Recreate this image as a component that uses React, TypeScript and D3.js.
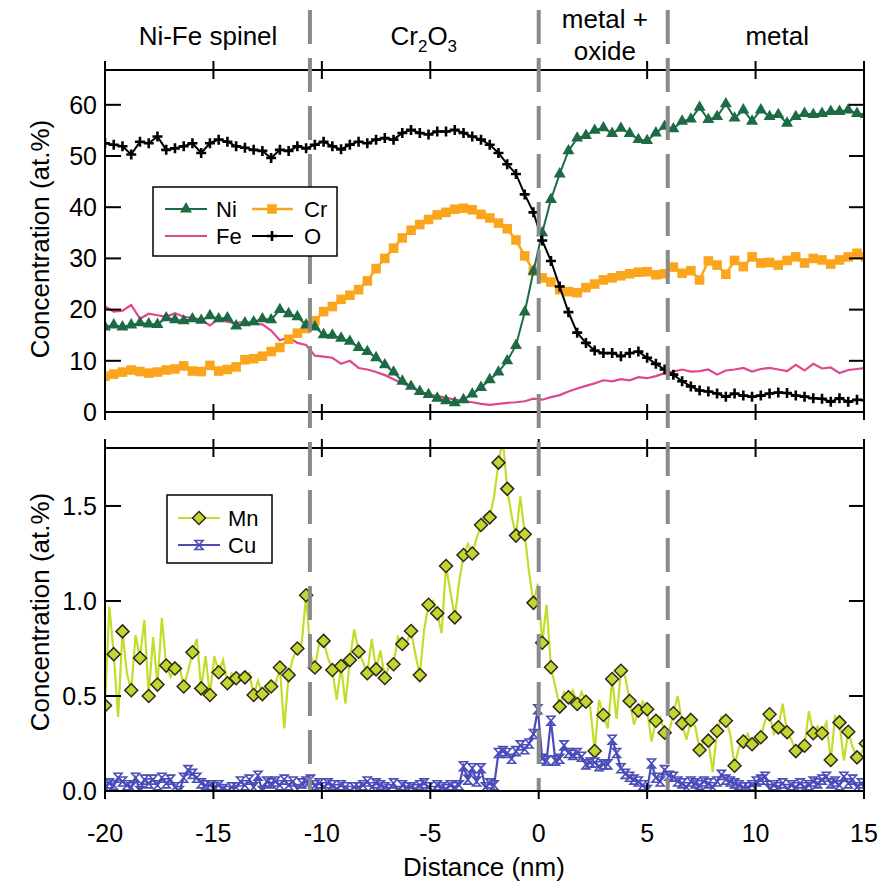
import React from 'react';
import * as d3 from 'd3';

// sampling of the line scan (nm between markers)
const xStart = -20;
const markerStep = 35.08 / 87;
const fineStep = markerStep / 2;

// top panel (at.%)
const niValues = [16.6, 17.0, 16.6, 17.0, 17.4, 17.2, 17.1, 18.4, 18.0, 17.8,
  18.2, 17.9, 18.8, 18.2, 18.4, 16.8, 17.4, 17.6, 18.2, 18.0,
  20.0, 19.2, 18.6, 17.0, 16.6, 15.1, 15.0, 14.4, 13.8, 12.6,
  11.8, 10.6, 9.2, 7.8, 6.0, 5.0, 4.0, 3.4, 2.7, 2.2,
  1.8, 2.4, 3.5, 4.8, 6.3, 7.8, 10.0, 13.0, 19.5, 27.5,
  35.0, 41.5, 46.5, 51.0, 53.5, 54.0, 55.0, 55.5, 54.4, 55.4,
  54.4, 53.2, 53.0, 54.5, 55.8, 55.3, 56.8, 57.2, 59.5, 57.1,
  57.7, 60.2, 57.4, 59.0, 56.8, 59.0, 57.7, 58.1, 56.4, 57.7,
  58.3, 58.1, 58.3, 58.7, 58.7, 59.0, 58.3, 58.1];

const crValues = [7.0, 7.4, 7.8, 8.2, 7.9, 7.6, 7.8, 8.2, 8.4, 9.0,
  8.0, 7.9, 9.1, 8.0, 8.3, 8.8, 10.2, 10.4, 10.9, 11.8,
  12.6, 14.2, 15.4, 16.3, 17.8, 19.6, 20.6, 22.0, 22.8, 23.9,
  25.6, 28.0, 30.0, 32.0, 34.0, 35.5, 36.6, 37.6, 38.5, 39.0,
  39.6, 39.8, 39.5, 38.6, 37.9, 36.9, 35.8, 33.6, 30.5, 27.5,
  26.2, 25.4, 23.9, 23.5, 23.3, 24.3, 25.0, 25.8, 26.2, 26.6,
  27.0, 27.3, 27.4, 26.8, 27.0, 28.3, 27.1, 27.6, 25.8, 29.5,
  28.7, 26.9, 29.6, 28.4, 30.3, 29.1, 29.2, 28.7, 29.6, 30.3,
  29.1, 30.0, 29.7, 28.9, 29.7, 30.3, 31.0, 30.3];

const feValues = [20.6, 19.6, 19.8, 20.9, 18.2, 19.2, 18.9, 18.6, 19.3, 18.6,
  18.4, 18.0, 16.9, 18.2, 17.6, 17.4, 17.6, 17.2, 17.1, 15.9,
  14.0, 14.6, 13.5, 13.1, 11.0, 10.8, 10.6, 9.4, 10.0, 8.6,
  8.3, 7.8, 7.2, 6.4, 5.6, 4.9, 4.0, 3.4, 3.1, 2.8,
  2.4, 2.2, 1.9, 1.6, 1.4, 1.6, 1.8, 1.9, 2.1, 2.6,
  2.4, 2.9, 3.3, 4.0, 4.6, 5.1, 5.6, 6.2, 6.0, 6.4,
  6.2, 6.8, 6.6, 7.0, 7.6, 7.9, 8.3, 7.9, 8.0, 8.3,
  7.3, 8.1, 8.3, 8.6, 7.9, 8.4, 8.6, 8.3, 8.0, 9.2,
  8.1, 9.4, 8.5, 8.7, 7.6, 8.2, 8.4, 8.6];

const oValues = [52.5, 52.2, 51.9, 50.3, 52.8, 52.5, 53.8, 51.2, 51.5, 51.9,
  52.5, 50.6, 52.5, 53.2, 52.8, 51.9, 51.6, 51.2, 51.0, 49.6,
  51.2, 51.0, 51.9, 51.5, 52.2, 52.8, 51.9, 51.3, 52.2, 52.8,
  52.5, 53.2, 53.5, 53.2, 54.5, 55.1, 54.5, 54.2, 54.8, 54.8,
  55.1, 54.5, 53.8, 53.2, 52.2, 50.6, 48.4, 46.5, 42.5, 39.0,
  33.5, 29.5, 24.5, 19.5, 15.5, 13.5, 12.0, 11.5, 11.5, 10.9,
  11.5, 11.8, 10.6, 9.4, 8.3, 7.3, 6.0, 5.0, 4.2, 4.0,
  3.6, 3.0, 3.6, 3.2, 3.0, 3.2, 3.6, 3.8, 3.7, 3.2,
  3.0, 2.7, 2.6, 2.0, 2.7, 2.0, 2.4, 2.3];

// bottom panel (at.%): Mn markers every other sample, line through all samples
const mnMarkers = [0.45, 0.72, 0.84, 0.53, 0.70, 0.50, 0.56, 0.66, 0.645, 0.55,
  0.73, 0.54, 0.505, 0.625, 0.567, 0.593, 0.598, 0.505, 0.51, 0.55,
  0.65, 0.61, 0.75, 1.03, 0.65, 0.79, 0.637, 0.658, 0.689, 0.733,
  0.62, 0.64, 0.595, 0.667, 0.774, 0.842, 0.61, 0.98, 0.935, 1.184,
  0.914, 1.242, 1.25, 1.40, 1.44, 1.728, 1.59, 1.344, 1.351, 0.99,
  0.78, 0.651, 0.444, 0.493, 0.458, 0.47, 0.21, 0.40, 0.589, 0.633,
  0.474, 0.423, 0.43, 0.37, 0.307, 0.409, 0.356, 0.374, 0.216, 0.265,
  0.316, 0.37, 0.133, 0.26, 0.246, 0.283, 0.404, 0.335, 0.309, 0.21,
  0.238, 0.304, 0.304, 0.163, 0.361, 0.312, 0.177, 0.25];

const mnBetween = [0.97, 0.39, 0.62, 0.82, 0.90, 0.81, 0.91, 0.60, 0.66, 0.63,
  0.80, 0.71, 0.71, 0.69, 0.62, 0.60, 0.62, 0.58, 0.52, 0.56,
  0.33, 0.70, 0.78, 0.72, 0.78, 0.70, 0.48, 0.46, 0.85, 0.68,
  0.80, 0.74, 0.66, 0.81, 0.78, 0.72, 0.85, 1.00, 0.83, 1.05,
  1.10, 1.30, 1.33, 1.45, 1.55, 1.85, 1.45, 1.55, 1.15, 1.09,
  0.98, 0.55, 0.52, 0.53, 0.52, 0.44, 0.48, 0.33, 0.38, 0.60,
  0.35, 0.47, 0.26, 0.39, 0.31, 0.50, 0.27, 0.34, 0.27, 0.10,
  0.39, 0.30, 0.23, 0.30, 0.25, 0.37, 0.30, 0.46, 0.27, 0.23,
  0.42, 0.34, 0.36, 0.39, 0.16, 0.23, 0.20];

const cuValues = [0.02, 0.04, 0.03, 0.07, 0.05, 0.03, 0.02, 0.07, 0.00, 0.06,
  0.04, 0.06, 0.03, 0.07, 0.04, 0.06, 0.02, 0.00, 0.07, 0.11,
  0.09, 0.07, 0.04, 0.03, 0.03, 0.02, 0.03, 0.01, 0.00, 0.02,
  0.02, 0.05, 0.03, 0.06, 0.02, 0.08, 0.00, 0.05, 0.04, 0.05,
  0.03, 0.06, 0.03, 0.05, 0.01, 0.04, 0.05, 0.06, 0.03, 0.04,
  0.02, 0.04, 0.03, 0.01, 0.03, 0.02, 0.00, 0.02, 0.02, 0.03,
  0.05, 0.02, 0.04, 0.03, 0.02, 0.01, 0.04, 0.00, 0.03, 0.02,
  0.02, 0.01, 0.03, 0.04, 0.02, 0.00, 0.03, 0.02, 0.01, 0.03,
  0.02, 0.03, 0.13, 0.06, 0.12, 0.05, 0.12, 0.02, 0.04, 0.03,
  0.20, 0.21, 0.20, 0.17, 0.21, 0.24, 0.22, 0.25, 0.30, 0.43,
  0.17, 0.16, 0.37, 0.16, 0.17, 0.24, 0.20, 0.19, 0.20, 0.18,
  0.14, 0.15, 0.15, 0.13, 0.14, 0.14, 0.27, 0.20, 0.12, 0.09,
  0.075, 0.06, 0.05, 0.03, 0.005, 0.145, 0.07, 0.05, 0.11, 0.08,
  0.075, 0.05, 0.04, 0.02, 0.05, 0.04, 0.03, 0.05, 0.04, 0.02,
  0.05, 0.085, 0.06, 0.05, 0.04, 0.03, 0.02, 0.02, 0.03, 0.05,
  0.06, 0.075, 0.01, 0.03, 0.02, 0.04, 0.01, 0.03, 0.02, 0.04,
  0.02, 0.03, 0.05, 0.04, 0.06, 0.075, 0.04, 0.05, 0.03, 0.075,
  0.04, 0.06, 0.02, 0.04, 0.01];

const xTicks = [-20, -15, -10, -5, 0, 5, 10, 15];
const topYTicks = [0, 10, 20, 30, 40, 50, 60];
const botYTicks = [0, 0.5, 1.0, 1.5];
const boundaries = [-10.55, 0, 5.95];

const FONT = "'Liberation Sans', Arial, sans-serif";
const NI = '#1d6b45';
const CR = '#fba51c';
const FE = '#e0468c';
const MN = '#c4dc2c';
const MN_FILL = '#c6d430';
const CU = '#4a4cb8';

const plusPath = 'M-5,0H5M0,-5V5';
const diamondPath = 'M0,-6.5L6.5,0L0,6.5L-6.5,0Z';
const hourglassPath = 'M-4,-4.5H4L-4,4.5H4Z';

export default function App() {
  const x = d3.scaleLinear().domain([-20, 15]).range([105, 864]);
  const yTop = d3.scaleLinear().domain([0, 66.8]).range([412, 70]);
  const yBot = d3.scaleLinear().domain([0, 1.805]).range([791, 448]);

  const coarse = (vals: number[]) => vals.map((v, i) => [xStart + i * markerStep, v] as [number, number]);
  const fine = (vals: number[]) => vals.map((v, i) => [xStart + i * fineStep, v] as [number, number]);

  const ni = coarse(niValues), cr = coarse(crValues), fe = coarse(feValues), ox = coarse(oValues);
  const mnLineVals: number[] = [];
  mnMarkers.forEach((v, i) => {
    mnLineVals.push(v);
    if (i < mnBetween.length) mnLineVals.push(mnBetween[i]);
  });
  const mnLine = fine(mnLineVals);
  const mnPts = coarse(mnMarkers);
  const cu = fine(cuValues);

  const lineTop = d3.line<[number, number]>().x(d => x(d[0])).y(d => yTop(d[1]));
  const lineBot = d3.line<[number, number]>().x(d => x(d[0])).y(d => yBot(d[1]));

  const tri = d3.symbol(d3.symbolTriangle, 62)();
  const sq = d3.symbol(d3.symbolSquare, 92)();

  const panelFrame = (top: number, bottom: number, y: d3.ScaleLinear<number, number>, ticks: number[], fmt: (v: number) => string) => (
    <g>
      <line x1={105} x2={864} y1={top} y2={top} stroke="#000" strokeWidth={2} />
      <line x1={105} x2={864} y1={bottom} y2={bottom} stroke="#000" strokeWidth={2} />
      <line x1={105} x2={105} y1={top} y2={bottom} stroke="#000" strokeWidth={2} />
      <line x1={864} x2={864} y1={top} y2={bottom} stroke="#000" strokeWidth={2} />
      {xTicks.map(t => (
        <g key={'x' + t}>
          <line x1={x(t)} x2={x(t)} y1={top - 9} y2={top + 9} stroke="#000" strokeWidth={2} />
          <line x1={x(t)} x2={x(t)} y1={bottom - 8} y2={bottom + 8} stroke="#000" strokeWidth={2} />
        </g>
      ))}
      {ticks.map(t => (
        <g key={'y' + t}>
          <line x1={105} x2={121} y1={y(t)} y2={y(t)} stroke="#000" strokeWidth={2} />
          <line x1={849} x2={864} y1={y(t)} y2={y(t)} stroke="#000" strokeWidth={2} />
          <text x={97} y={y(t)} dy="0.35em" textAnchor="end" fontSize={25}>{fmt(t)}</text>
        </g>
      ))}
    </g>
  );

  return (
    <svg width={881} height={886} style={{ position: 'absolute', left: 0, top: 0, background: '#fff' }} fontFamily={FONT}>
      <defs>
        <clipPath id="clipTop"><rect x={105} y={70} width={759} height={342} /></clipPath>
        <clipPath id="clipBot"><rect x={105} y={448} width={759} height={343} /></clipPath>
      </defs>

      {/* top panel */}
      <g clipPath="url(#clipTop)">
        <path d={lineTop(fe)!} fill="none" stroke={FE} strokeWidth={2.2} />
        <path d={lineTop(cr)!} fill="none" stroke={CR} strokeWidth={2.5} />
        {cr.map((d, i) => <path key={'cr' + i} d={sq!} transform={`translate(${x(d[0])},${yTop(d[1])})`} fill={CR} />)}
        <path d={lineTop(ni)!} fill="none" stroke={NI} strokeWidth={2} />
        {ni.map((d, i) => <path key={'ni' + i} d={tri!} transform={`translate(${x(d[0])},${yTop(d[1])})`} fill={NI} />)}
        <path d={lineTop(ox)!} fill="none" stroke="#000" strokeWidth={2} />
        {ox.map((d, i) => <path key={'o' + i} d={plusPath} transform={`translate(${x(d[0])},${yTop(d[1])})`} stroke="#000" strokeWidth={2.6} />)}
      </g>
      {panelFrame(70, 412, yTop, topYTicks, v => String(v))}

      {/* bottom panel */}
      <g clipPath="url(#clipBot)">
        <path d={lineBot(mnLine)!} fill="none" stroke={MN} strokeWidth={2.2} />
        {mnPts.map((d, i) => <path key={'mn' + i} d={diamondPath} transform={`translate(${x(d[0])},${yBot(d[1])})`} fill={MN_FILL} stroke="#2a2a1a" strokeWidth={1.5} />)}
        <path d={lineBot(cu)!} fill="none" stroke={CU} strokeWidth={2.2} />
        {cu.map((d, i) => <path key={'cu' + i} d={hourglassPath} transform={`translate(${x(d[0])},${yBot(d[1])})`} fill="none" stroke={CU} strokeWidth={1.6} />)}
      </g>
      {panelFrame(448, 791, yBot, botYTicks, v => v.toFixed(1))}

      {/* region boundaries */}
      {boundaries.map(b => (
        <line key={'b' + b} x1={x(b)} x2={x(b)} y1={10} y2={790} stroke="#8a8a8a" strokeWidth={4} strokeDasharray="34 14" />
      ))}

      {/* region labels */}
      <text x={x(-15.25)} y={45} textAnchor="middle" fontSize={26}>Ni-Fe spinel</text>
      <text x={x(-5.3)} y={45} textAnchor="middle" fontSize={26}>
        Cr<tspan fontSize={17} dy={7}>2</tspan><tspan dy={-7}>O</tspan><tspan fontSize={17} dy={7}>3</tspan>
      </text>
      <text x={x(3.05)} y={28} textAnchor="middle" fontSize={26}>metal +</text>
      <text x={x(3.05)} y={60} textAnchor="middle" fontSize={26}>oxide</text>
      <text x={x(11.0)} y={45} textAnchor="middle" fontSize={26}>metal</text>

      {/* x tick labels */}
      {xTicks.map(t => (
        <text key={'xl' + t} x={x(t)} y={842} textAnchor="middle" fontSize={25}>{t}</text>
      ))}
      <text x={484} y={876} textAnchor="middle" fontSize={26}>Distance (nm)</text>
      <text transform="translate(49,239) rotate(-90)" textAnchor="middle" fontSize={26}>Concentration (at.%)</text>
      <text transform="translate(49,612) rotate(-90)" textAnchor="middle" fontSize={26}>Concentration (at.%)</text>

      {/* top legend */}
      <g>
        <rect x={153} y={187} width={184} height={69} fill="#fff" stroke="#000" strokeWidth={1.5} />
        <line x1={165} x2={207} y1={209} y2={209} stroke={NI} strokeWidth={2} />
        <path d={tri!} transform="translate(186,209)" fill={NI} />
        <text x={216} y={209} dy="0.35em" fontSize={22}>Ni</text>
        <line x1={252} x2={293} y1={209} y2={209} stroke={CR} strokeWidth={2.5} />
        <path d={sq!} transform="translate(272,209)" fill={CR} />
        <text x={304} y={209} dy="0.35em" fontSize={22}>Cr</text>
        <line x1={165} x2={207} y1={236} y2={236} stroke={FE} strokeWidth={2.2} />
        <text x={216} y={236} dy="0.35em" fontSize={22}>Fe</text>
        <line x1={252} x2={293} y1={236} y2={236} stroke="#000" strokeWidth={2} />
        <path d={plusPath} transform="translate(272,236)" stroke="#000" strokeWidth={2.6} />
        <text x={304} y={236} dy="0.35em" fontSize={22}>O</text>
      </g>

      {/* bottom legend */}
      <g>
        <rect x={167} y={495} width={105} height={68} fill="#fff" stroke="#000" strokeWidth={1.5} />
        <line x1={178} x2={220} y1={518} y2={518} stroke={MN} strokeWidth={2.2} />
        <path d={diamondPath} transform="translate(199,518)" fill={MN_FILL} stroke="#2a2a1a" strokeWidth={1.5} />
        <text x={228} y={518} dy="0.35em" fontSize={22}>Mn</text>
        <line x1={178} x2={220} y1={545} y2={545} stroke={CU} strokeWidth={2.2} />
        <path d={hourglassPath} transform="translate(199,545)" fill="none" stroke={CU} strokeWidth={1.6} />
        <text x={228} y={545} dy="0.35em" fontSize={22}>Cu</text>
      </g>
    </svg>
  );
}
